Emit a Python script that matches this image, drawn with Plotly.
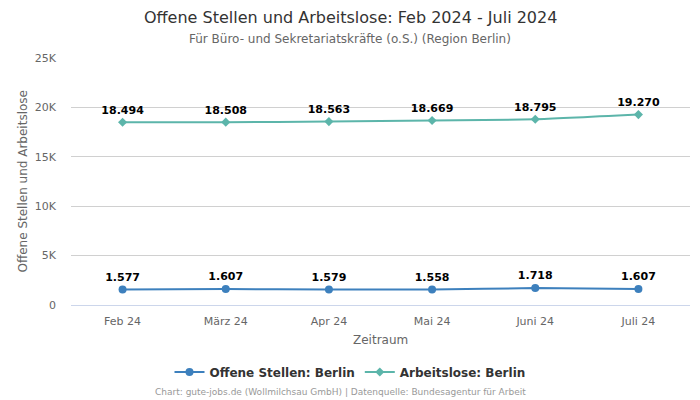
import plotly.graph_objects as go

categories = ["Feb 24", "März 24", "Apr 24", "Mai 24", "Juni 24", "Juli 24"]
offene_stellen = [1577, 1607, 1579, 1558, 1718, 1607]
arbeitslose = [18494, 18508, 18563, 18669, 18795, 19270]
y_ticks = [0, 5000, 10000, 15000, 20000, 25000]
y_tick_labels = ["0", "5K", "10K", "15K", "20K", "25K"]

def de(v):
    return f"{v:,}".replace(",", ".")

FONT = "DejaVu Sans"
OFF = 8  # page body margin
W, H = 700, 400
L = 71 - OFF
T = 58 - OFF
B = H - (305 - OFF)
R = W - (690 - OFF)
PH = H - T - B
PW = W - L - R

def py(p):
    return (H - B - (p - OFF)) / PH

def px(p):
    return ((p - OFF) - L) / PW

fig = go.Figure()
fig.add_trace(go.Scatter(
    x=categories, y=offene_stellen, name="Offene Stellen: Berlin",
    mode="lines+markers+text", line=dict(color="#3d80bd", width=2, shape="spline", smoothing=0.5),
    marker=dict(symbol="circle", size=8, color="#3d80bd"),
    text=[de(v) for v in offene_stellen], textposition="top center",
    textfont=dict(family=FONT, size=11, color="#000000", weight="bold"),
))
fig.add_trace(go.Scatter(
    x=categories, y=arbeitslose, name="Arbeitslose: Berlin",
    mode="lines+markers+text", line=dict(color="#5cb5aa", width=2, shape="spline", smoothing=0.5),
    marker=dict(symbol="diamond", size=7, color="#5cb5aa"),
    text=[de(v) for v in arbeitslose], textposition="top center",
    textfont=dict(family=FONT, size=11, color="#000000", weight="bold"),
))
fig.update_layout(
    width=W, height=H, plot_bgcolor="white", paper_bgcolor="white",
    margin=dict(l=L, r=R, t=T, b=B, autoexpand=False),
    font=dict(family=FONT, color="#666666"),
    xaxis=dict(range=[-0.5, 5.5], showgrid=False, showline=True, linecolor="#ccd6eb",
               ticks="", tickfont=dict(size=11, color="#666666"), automargin=False,
               ticklabelstandoff=6),
    yaxis=dict(range=[0, 25000], tickvals=y_ticks, ticktext=y_tick_labels,
               gridcolor="#d0d0d0", zeroline=False, tickfont=dict(size=11, color="#666666"),
               automargin=False, ticklabelstandoff=14),
    legend=dict(orientation="h", x=px(350), xanchor="center", y=py(372), yanchor="middle",
                itemwidth=30, font=dict(size=12, color="#333333", weight="bold")),
    showlegend=True,
)
ann = [
    ("Offene Stellen und Arbeitslose: Feb 2024 - Juli 2024", px(350), py(17), 16, "#333333"),
    ("Für Büro- und Sekretariatskräfte (o.S.) (Region Berlin)", px(350), py(39), 12, "#666666"),
    ("Zeitraum", px(380), py(340), 12, "#666666"),
    ("Chart: gute-jobs.de (Wollmilchsau GmbH) | Datenquelle: Bundesagentur für Arbeit", px(340), py(392), 9, "#999999"),
]
for text, x, y, size, color in ann:
    fig.add_annotation(text=text, xref="paper", yref="paper", x=x, y=y, xanchor="center",
                       yanchor="middle", showarrow=False, font=dict(size=size, color=color))
fig.add_annotation(text="Offene Stellen und Arbeitslose", xref="paper", yref="paper",
                   x=px(22), y=0.5, textangle=-90, showarrow=False,
                   xanchor="center", yanchor="middle", font=dict(size=12, color="#666666"))
fig.write_html("out.html")
